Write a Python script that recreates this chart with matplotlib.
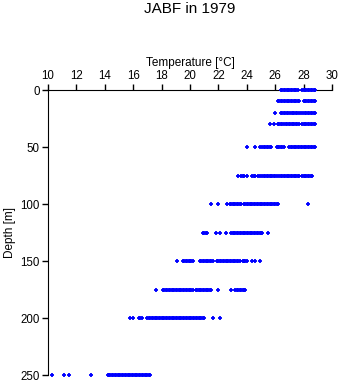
import matplotlib
matplotlib.use('Agg')
import matplotlib.pyplot as plt

plt.rcParams['font.family'] = ['Liberation Sans', 'DejaVu Sans']

# temperature readings (deg C) for each sampled depth (m)
t_0 = [26.4, 26.5, 26.6, 26.7, 26.8, 26.9, 27.0, 27.1, 27.2, 27.3, 27.4, 27.5, 27.6,
       27.9, 28.0, 28.1, 28.2, 28.3, 28.4, 28.5, 28.6, 28.7, 28.8]
t_10 = [26.2, 26.3, 26.4, 26.5, 26.6, 26.7, 26.8, 26.9, 27.0, 27.1, 27.2, 27.3, 27.4,
        27.5, 27.6, 27.7, 28.0, 28.1, 28.2, 28.3, 28.4, 28.5, 28.6, 28.7, 28.8]
t_20 = [26.0, 26.4, 26.5, 26.6, 26.7, 26.8, 26.9, 27.05, 27.15, 27.25, 27.35, 27.45,
        27.55, 27.65, 27.85, 27.95, 28.1, 28.2, 28.3, 28.4, 28.5, 28.6, 28.7, 28.8]
t_30 = [25.6, 25.9, 26.2, 26.3, 26.4, 26.5, 26.65, 26.75, 26.85, 26.95, 27.05, 27.15,
        27.25, 27.35, 27.45, 27.55, 27.65, 27.9, 28.0, 28.1, 28.2, 28.3, 28.4, 28.5,
        28.6, 28.7, 28.8]
t_50 = [24.0, 24.6, 24.9, 25.1, 25.2, 25.3, 25.4, 25.5, 25.6, 25.7, 26.1, 26.2, 26.3,
        26.4, 26.5, 26.6, 27.0, 27.1, 27.2, 27.3, 27.4, 27.5, 27.6, 27.7, 27.8, 27.9,
        28.0, 28.1, 28.2, 28.3, 28.4, 28.5, 28.6, 28.7, 28.8]
t_75 = [23.4, 23.6, 23.7, 23.8, 24.0, 24.4, 24.5, 24.6, 24.8, 24.9, 25.1, 25.2, 25.3,
        25.4, 25.5, 25.6, 25.7, 25.8, 25.9, 26.0, 26.1, 26.3, 26.4, 26.5, 26.6, 26.7,
        26.8, 26.9, 27.0, 27.1, 27.2, 27.3, 27.4, 27.5, 27.6, 27.7, 27.9, 28.0, 28.1,
        28.2, 28.3, 28.4, 28.5, 28.6]
t_100 = [21.5, 22.0, 22.6, 22.8, 22.9, 23.0, 23.1, 23.2, 23.3, 23.4, 23.5, 23.6, 23.8,
         23.9, 24.0, 24.1, 24.2, 24.3, 24.4, 24.5, 24.6, 24.7, 24.8, 24.9, 25.0, 25.1,
         25.2, 25.3, 25.4, 25.5, 25.6, 25.7, 25.8, 25.9, 26.0, 26.1, 26.2, 28.3]
t_125 = [20.9, 21.0, 21.1, 21.2, 21.8, 22.1, 22.5, 22.9, 23.0, 23.1, 23.2, 23.3, 23.4,
         23.5, 23.6, 23.7, 23.8, 23.9, 24.0, 24.1, 24.2, 24.3, 24.4, 24.5, 24.6, 24.7,
         24.8, 24.9, 25.0, 25.1, 25.5]
t_150 = [19.1, 19.5, 19.6, 19.7, 19.8, 19.9, 20.0, 20.1, 20.2, 20.7, 20.8, 20.9, 21.0,
         21.1, 21.2, 21.3, 21.4, 21.5, 21.6, 21.9, 22.0, 22.1, 22.2, 22.3, 22.4, 22.5,
         22.6, 22.7, 22.8, 22.9, 23.0, 23.1, 23.2, 23.3, 23.4, 23.5, 23.7, 23.8, 23.9,
         24.0, 24.4, 24.6, 24.9]
t_175 = [17.6, 18.1, 18.2, 18.3, 18.4, 18.5, 18.6, 18.7, 18.8, 18.9, 19.0, 19.1, 19.2,
         19.3, 19.4, 19.5, 19.6, 19.7, 19.8, 19.9, 20.0, 20.1, 20.2, 20.4, 20.5, 20.6,
         20.7, 20.8, 20.9, 21.0, 21.1, 21.2, 21.3, 21.4, 21.5, 22.0, 22.9, 23.2, 23.3,
         23.4, 23.5, 23.6, 23.7, 23.8, 23.9]
t_200 = [15.8, 16.0, 16.4, 16.5, 16.6, 17.0, 17.1, 17.2, 17.3, 17.4, 17.5, 17.6, 17.7,
         17.8, 17.9, 18.0, 18.1, 18.2, 18.3, 18.4, 18.5, 18.6, 18.7, 18.8, 18.9, 19.0,
         19.1, 19.2, 19.3, 19.4, 19.5, 19.6, 19.7, 19.8, 19.9, 20.0, 20.1, 20.2, 20.3,
         20.4, 20.5, 20.6, 20.7, 20.8, 20.9, 21.0, 21.6, 22.1]
t_250 = [10.3, 11.1, 11.5, 13.0, 14.2, 14.3, 14.4, 14.5, 14.6, 14.7, 14.8, 14.9, 15.0,
         15.1, 15.2, 15.3, 15.4, 15.5, 15.6, 15.7, 15.8, 15.9, 16.0, 16.1, 16.2, 16.3,
         16.4, 16.5, 16.6, 16.7, 16.8, 16.9, 17.0, 17.1, 17.2]

depths = [0, 10, 20, 30, 50, 75, 100, 125, 150, 175, 200, 250]
temps = [t_0, t_10, t_20, t_30, t_50, t_75, t_100, t_125, t_150, t_175, t_200, t_250]

x_ticks = list(range(10, 31, 2))
y_ticks = [0, 50, 100, 150, 200, 250]

fig = plt.figure(figsize=(3.41, 3.84), dpi=100)
ax = fig.add_axes([0.1408, 0.0234, 0.8328, 0.7422])

for d, t in zip(depths, temps):
    ax.plot(t, [d] * len(t), linestyle='none', marker='+', markersize=3.2,
            markeredgewidth=1.3, color='#0000ff', clip_on=False, zorder=5)

ax.set_xlim(10, 30)
ax.set_ylim(250, 0)
ax.set_xticks(x_ticks)
ax.set_yticks(y_ticks)

ax.xaxis.tick_top()
ax.xaxis.set_label_position('top')
ax.spines['right'].set_visible(False)
ax.spines['bottom'].set_visible(False)
ax.tick_params(direction='out', length=4, width=1, labelsize=8.3, pad=2)

ax.set_xlabel('Temperature [°C]', fontsize=8.5, labelpad=3)
ax.set_ylabel('Depth [m]', fontsize=8.5, labelpad=3)

fig.text(0.557, 0.977, 'JABF in 1979', ha='center', va='center', fontsize=11)

fig.savefig('out.png', dpi=100)
